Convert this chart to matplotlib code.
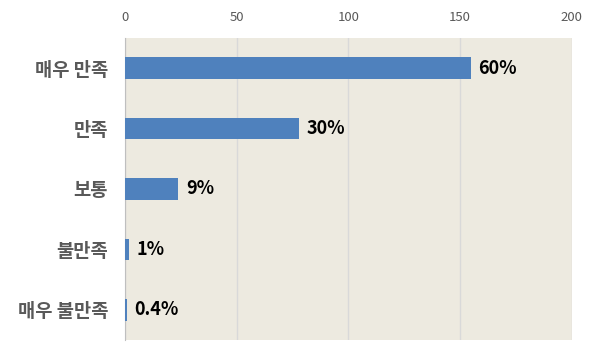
import matplotlib
matplotlib.use("Agg")
import matplotlib.pyplot as plt

plt.rcParams['font.family'] = ['Noto Sans CJK KR', 'DejaVu Sans']

categories = ["매우 만족", "만족", "보통", "불만족", "매우 불만족"]
counts = [155, 78, 24, 2, 0.8]
labels = ["60%", "30%", "9%", "1%", "0.4%"]
xticks = [0, 50, 100, 150, 200]

fig = plt.figure(figsize=(6, 3.6), dpi=100)
ax = fig.add_axes([0.208, 0.055, 0.745, 0.84])
ax.set_facecolor("#EDEAE0")

y = list(range(len(categories)))
ax.barh(y, counts, height=0.36, color="#4F81BD", zorder=3)
for yi, c, lab in zip(y, counts, labels):
    ax.text(c + 3.3, yi, lab, va="center", ha="left", fontsize=13,
            fontweight="bold", color="black", zorder=4)

ax.set_xlim(0, 200)
ax.set_ylim(len(categories) - 0.5, -0.5)
ax.set_yticks(y)
ax.set_yticklabels(categories, fontsize=13.5, fontweight="bold", color="#595959")
ax.set_xticks(xticks)
ax.xaxis.tick_top()
ax.tick_params(axis="x", length=0, labelsize=9.5, labelcolor="#595959", pad=10)
ax.tick_params(axis="y", length=0, pad=12)
ax.grid(axis="x", color="#D9D9D9", linewidth=1, zorder=0)
for s in ["top", "right", "bottom"]:
    ax.spines[s].set_visible(False)
ax.spines["left"].set_color("#BFBFBF")

fig.savefig("out.png", dpi=100)
